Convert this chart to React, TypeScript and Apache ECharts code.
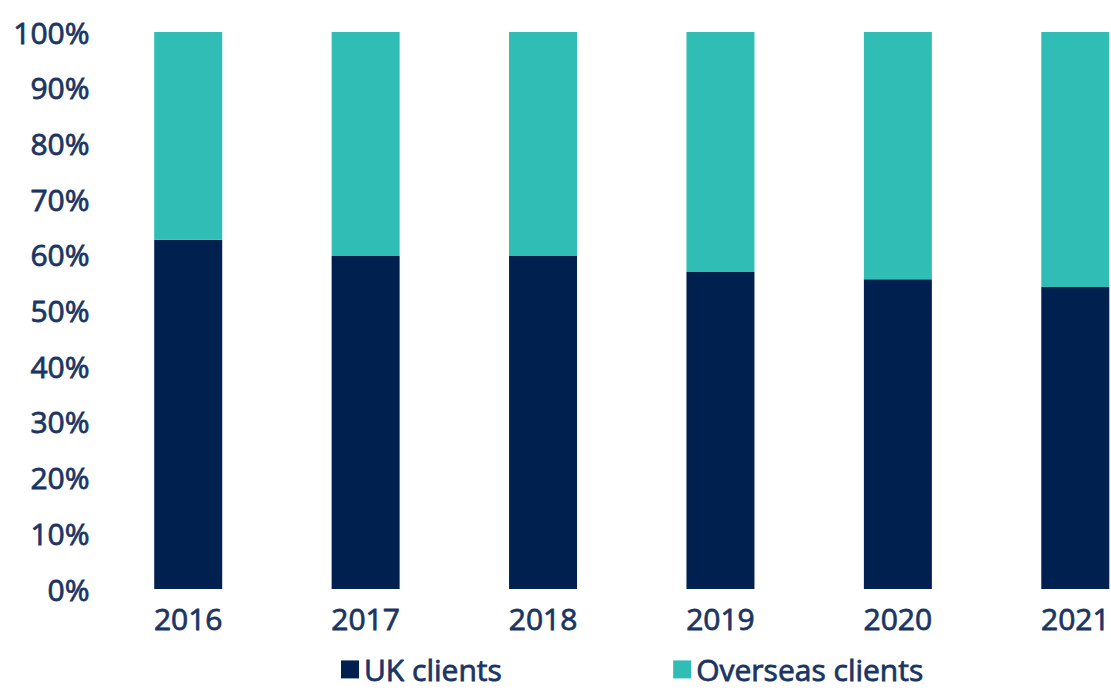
import React, { useEffect, useRef } from "react";
import * as echarts from "echarts";

const categories = ["2016", "2017", "2018", "2019", "2020", "2021"];
const ukClients = [62.7, 59.8, 59.8, 56.9, 55.6, 54.2];
const overseasClients = ukClients.map((v) => +(100 - v).toFixed(1));
const yTicks = [0, 10, 20, 30, 40, 50, 60, 70, 80, 90, 100];

const TEXT = "#1b3563";
const FONT = "'Open Sans', sans-serif";
const THICK = { textBorderColor: TEXT, textBorderWidth: 0.8 };

export default function App() {
  const ref = useRef<HTMLDivElement>(null);
  useEffect(() => {
    if (!ref.current) return;
    const chart = echarts.init(ref.current, undefined, { renderer: "svg" });
    chart.setOption({
      animation: false,
      backgroundColor: "#ffffff",
      grid: { left: 99.5, right: 0, top: 32, bottom: 101, containLabel: false },
      legend: {
        left: 336,
        top: 649,
        itemWidth: 18,
        itemHeight: 18,
        itemGap: 171,
        icon: "rect",
        textStyle: {
          color: TEXT,
          fontSize: 30,
          lineHeight: 28,
          fontFamily: FONT,
          padding: [0, 0, 0, 0],
          ...THICK,
        },
        data: ["UK clients", "Overseas clients"],
      },
      xAxis: {
        type: "category",
        data: categories,
        axisLine: { show: false },
        axisTick: { show: false },
        axisLabel: { color: TEXT, fontSize: 30, fontFamily: FONT, margin: 14, ...THICK },
      },
      yAxis: {
        type: "value",
        min: 0,
        max: 100,
        interval: 10,
        splitLine: { show: false },
        axisLine: { show: false },
        axisTick: { show: false },
        axisLabel: {
          color: TEXT,
          fontSize: 30,
          fontFamily: FONT,
          margin: 10,
          ...THICK,
          formatter: (v: number) => (yTicks.includes(v) ? v + "%" : ""),
        },
      },
      series: [
        {
          name: "UK clients",
          type: "bar",
          stack: "total",
          barWidth: 68,
          data: ukClients,
          itemStyle: { color: "#002050" },
        },
        {
          name: "Overseas clients",
          type: "bar",
          stack: "total",
          barWidth: 68,
          data: overseasClients,
          itemStyle: { color: "#2fbdb5" },
        },
      ],
    });
    return () => chart.dispose();
  }, []);
  return (
    <div style={{ position: "fixed", left: 0, top: 0, width: 1111, height: 690, overflow: "hidden", background: "#fff" }}>
      <div ref={ref} style={{ width: 1164, height: 690 }} />
    </div>
  );
}
